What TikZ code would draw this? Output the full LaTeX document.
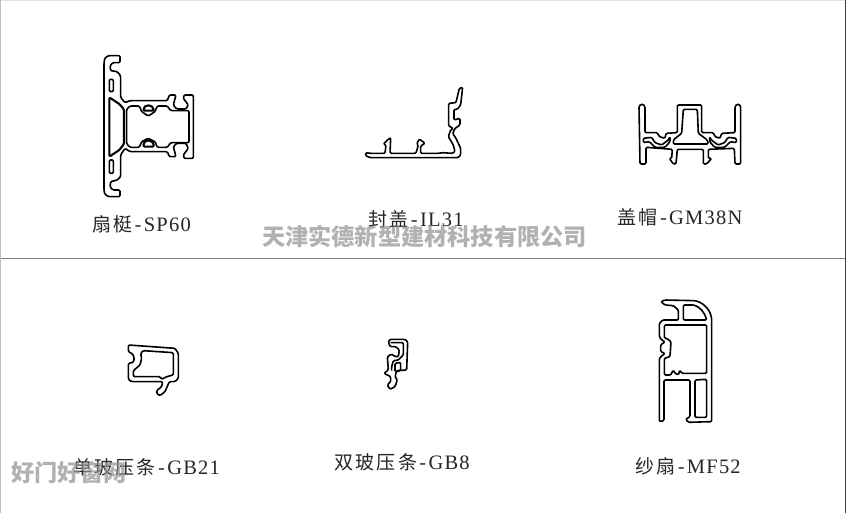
\documentclass[tikz,border=0pt]{standalone}
\usepackage{fontspec}
\newfontfamily\cjkfont[LetterSpace=12]{Noto Sans CJK SC}
\newfontfamily\latinfont[LetterSpace=6]{Liberation Serif}
\newfontfamily\dashfont{Liberation Mono}
\newfontfamily\markfont{Noto Sans CJK SC}
\tikzset{
  prof/.style={draw=black,line width=1.6pt,rounded corners=1.2pt,line join=round},
  thick wall/.style={draw=black,line width=2.1pt,rounded corners=1.2pt,line join=round},
  zoomed/.style={x=.3333pt,y=-.3333pt},
  caption/.style={inner sep=0pt,text=black!85,font=\fontsize{19}{19}\selectfont},
  mark text/.style={inner sep=0pt,text=black!42,text opacity=.72,font=\markfont\bfseries\fontsize{23.2}{23.2}\selectfont},
  rule line/.style={draw=black!50,line width=1pt}
}
\newcommand{\zh}[1]{{\cjkfont #1}}
\newcommand{\lat}[1]{{\dashfont -}{\latinfont\fontsize{20.5}{20.5}\selectfont #1}}
\begin{document}
\begin{tikzpicture}[x=1pt,y=-1pt]
\useasboundingbox[fill=white] (0,0) rectangle (846,513);
\draw[rule line] (0,258) -- (846,258);
\draw[draw=black!12,line width=1pt] (0,0.5) -- (846,0.5);
\draw[draw=black!25,line width=1pt] (0.5,0) -- (0.5,513);
\draw[draw=black!75,line width=1pt] (845.5,0) -- (845.5,513);

% SP60
\begin{scope}[shift={(80,40)},zoomed]
\draw[prof] (72,70) -- (74,55) -- (85,47) -- (120,47) -- (120,68) -- (98,68) -- (90,78) -- (92,92) -- (112,95) -- (122,108) -- (122,172) -- (135,188) -- (150,182) -- (262,182) -- (268,165) -- (288,165) -- (280,195) -- (290,207) -- (318,207) -- (325,195) -- (310,175) -- (312,165) -- (340,165) -- (340,355) -- (312,355) -- (310,345) -- (325,325) -- (318,310) -- (290,310) -- (280,320) -- (288,350) -- (268,350) -- (262,335) -- (150,335) -- (135,325) -- (122,345) -- (122,410) -- (112,420) -- (92,425) -- (90,440) -- (98,450) -- (120,450) -- (120,470) -- (85,470) -- (74,462) -- (72,450) -- cycle;
\draw[thick wall] (88,172) -- (118,192) -- (132,208) -- (132,312) -- (118,330) -- (88,350) -- cycle;
\draw[prof] (88,118) rectangle (100,155);
\draw[prof] (88,360) rectangle (100,400);
\draw[prof] (140,208) -- (150,198) -- (178,198) -- (185,215) -- (205,228) -- (225,215) -- (232,198) -- (262,198) -- (272,212) -- (327,212) -- (327,308) -- (272,308) -- (262,322) -- (232,322) -- (225,305) -- (205,295) -- (185,305) -- (178,322) -- (150,322) -- (140,312) -- cycle;
\draw[thick wall] (190,212) .. controls (192,192) and (218,192) .. (222,212) -- cycle;
\draw[thick wall] (190,320) .. controls (192,296) and (218,296) .. (222,320) -- cycle;
\end{scope}

% IL31
\begin{scope}[shift={(350,70)},zoomed]
\draw[prof] (47,248) -- (60,250) -- (105,250) -- (108,225) -- (100,222) -- (118,205) -- (122,205) -- (120,250) -- (198,250) -- (205,225) -- (200,222) -- (208,207) -- (225,220) -- (212,228) -- (212,250) -- (268,250) -- (275,248) -- (308,250) -- (315,245) -- (310,225) -- (295,200) -- (302,180) -- (310,175) -- (296,168) -- (296,100) -- (318,98) -- (328,55) -- (338,52) -- (332,105) -- (322,118) -- (312,118) -- (312,150) -- (330,145) -- (330,165) -- (315,175) -- (308,190) -- (318,205) -- (332,235) -- (332,255) -- (325,263) -- (60,263) -- (47,257) -- cycle;
\end{scope}

% GM38N
\begin{scope}[shift={(620,90)},zoomed]
\draw[prof] (57,50) -- (62,43) -- (70,43) -- (75,50) -- (75,128) -- (112,128) -- (118,140) -- (135,145) -- (138,130) -- (172,128) -- (172,45) -- (245,45) -- (245,128) -- (280,128) -- (285,140) -- (300,145) -- (305,130) -- (345,128) -- (345,50) -- (350,43) -- (358,43) -- (362,50) -- (362,222) -- (345,222) -- (343,175) -- (265,178) -- (265,205) -- (275,205) -- (260,222) -- (250,222) -- (250,178) -- (172,178) -- (168,222) -- (160,222) -- (148,205) -- (155,205) -- (157,178) -- (78,172) -- (78,222) -- (60,222) -- cycle;
\draw[prof] (190,58) -- (232,58) -- (235,130) -- (262,150) -- (265,162) -- (160,162) -- (160,150) -- (185,130) -- cycle;
\draw[prof] (70,145) -- (95,142) -- (105,158) -- (125,165) -- (145,150) -- (150,140) -- (150,155) -- (135,172) -- (105,172) -- (88,155) -- (70,158) -- cycle;
\draw[prof] (349,145) -- (324,142) -- (314,158) -- (294,165) -- (274,150) -- (269,140) -- (269,155) -- (284,172) -- (314,172) -- (331,155) -- (349,158) -- cycle;
\end{scope}

% GB21
\begin{scope}[shift={(110,330)},zoomed]
\draw[prof] (55,45) -- (195,55) -- (205,70) -- (205,145) -- (195,155) -- (178,155) -- (165,185) -- (150,197) -- (140,190) -- (140,182) -- (155,170) -- (158,155) -- (65,155) -- (55,148) -- (55,100) -- (70,97) -- (73,85) -- (68,72) -- (55,65) -- cycle;
\draw[prof] (100,62) -- (190,68) -- (190,135) -- (170,140) -- (155,148) -- (150,140) -- (70,140) -- (70,122) -- (90,105) -- (95,85) -- (92,70) -- cycle;
\end{scope}

% GB8
\begin{scope}[shift={(370,330)},zoomed]
\draw[prof] (55,35) -- (60,28) -- (105,28) -- (113,35) -- (110,120) -- (80,122) -- (75,140) -- (82,150) -- (75,170) -- (60,178) -- (52,165) -- (62,155) -- (62,140) -- (42,130) -- (55,120) -- (52,80) -- (65,72) -- (75,80) -- (85,80) -- (88,60) -- (78,50) -- (60,50) -- cycle;
\draw[prof] (75,100) -- (92,97) -- (92,122) -- (75,125) -- cycle;
\draw[prof] (62,38) -- (100,38) -- (100,75) -- (85,90) -- (70,92) -- (65,110) -- (65,122);
\end{scope}

% MF52
\begin{scope}[shift={(640,290)},zoomed]
\draw[prof] (58,395) -- (58,205) -- (65,198) -- (75,190) -- (62,185) -- (62,165) -- (75,155) -- (65,150) -- (58,140) -- (58,100) -- (68,90) -- (115,90) -- (115,60) -- (100,47) -- (75,45) -- (63,35) -- (75,30) -- (165,32) .. controls (195,40) and (215,65) .. (215,95) -- (215,395) -- (145,397) -- (137,388) -- (150,380) -- (150,270) -- (72,270) -- (72,392) -- cycle;
\draw[prof] (73,105) -- (200,105) -- (200,250) -- (125,250) -- (120,240) -- (115,255) -- (105,250) -- (100,240) -- (92,255) -- (73,255) -- (73,205) -- (90,200) -- (93,155) -- (80,145) -- (73,145) -- cycle;
\draw[prof] (130,90) -- (200,90) .. controls (195,70) and (180,50) .. (160,45) -- (130,45) -- cycle;
\draw[prof] (165,270) -- (200,268) -- (200,382) -- (165,382) -- cycle;
\end{scope}

\node[caption] (capa) at (141.5,224) {\zh{扇梃}\lat{SP60}};
\node[caption] (capb) at (416,219) {\zh{封盖}\lat{IL31}};
\node[caption] (capc) at (680,217) {\zh{盖帽}\lat{GM38N}};
\node[caption] (capd) at (146.5,467) {\zh{单玻压条}\lat{GB21}};
\node[caption] (cape) at (402,462) {\zh{双玻压条}\lat{GB8}};
\node[caption] (capf) at (688,466) {\zh{纱扇}\lat{MF52}};
\node[mark text] (marka) at (424.5,237) {天津实德新型建材科技有限公司};
\node[mark text] (markb) at (69,473) {好门好窗网};
\end{tikzpicture}
\end{document}
